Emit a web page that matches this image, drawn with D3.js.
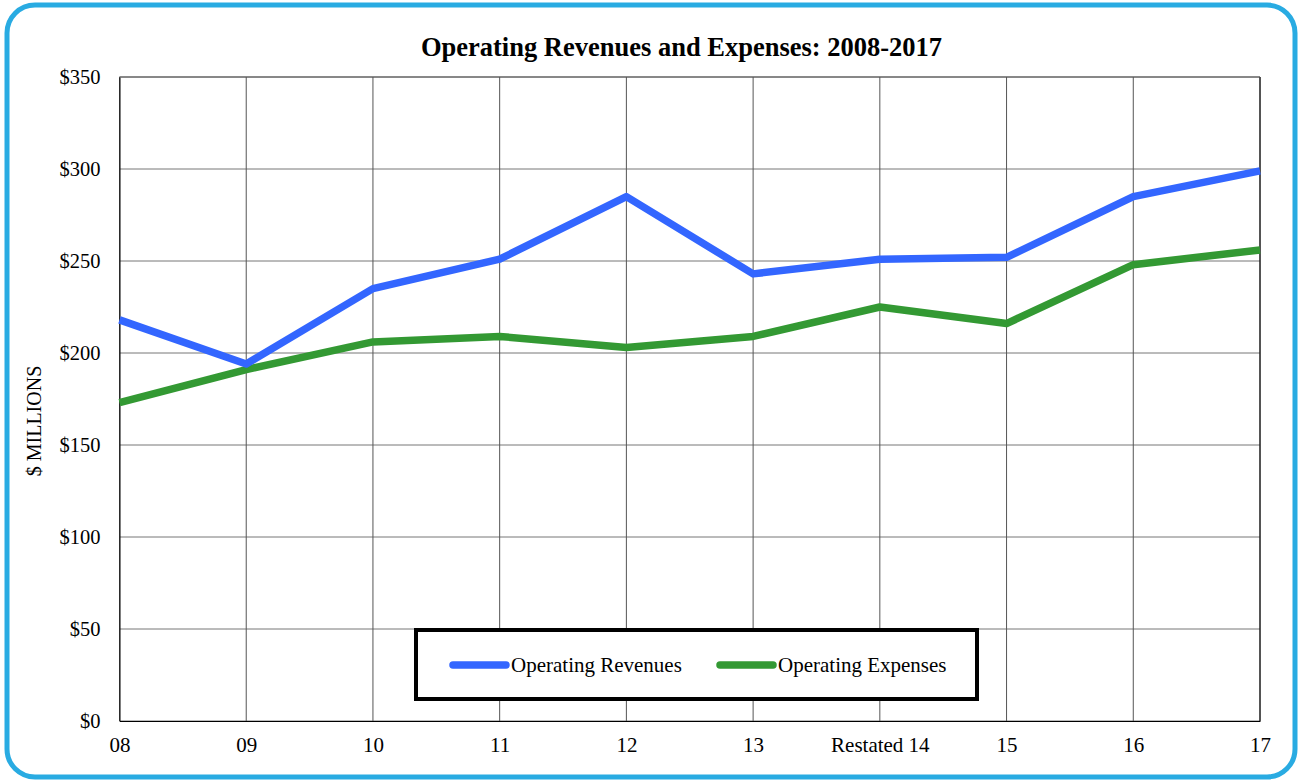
<!DOCTYPE html>
<html>
<head>
<meta charset="utf-8">
<script src="https://cdn.jsdelivr.net/npm/d3@7"></script>
<style>
body { margin: 0; background: #fff; }
text { font-family: "Liberation Serif", "Times New Roman", serif; fill: #000; }
</style>
</head>
<body>
<script>
var years = ["08", "09", "10", "11", "12", "13", "Restated 14", "15", "16", "17"];
var revenues = [218, 194, 235, 251, 285, 243, 251, 252, 285, 299];
var expenses = [173, 191, 206, 209, 203, 209, 225, 216, 248, 256];
var yTicks = [0, 50, 100, 150, 200, 250, 300, 350];

var W = 1302, H = 782;
var plotLeft = 119.5, plotRight = 1260, plotTop = 77, plotBottom = 721;

var svg = d3.select("body").append("svg")
  .attr("width", W).attr("height", H);

// outer rounded frame
svg.append("rect")
  .attr("x", 7).attr("y", 5)
  .attr("width", W - 14).attr("height", H - 10)
  .attr("rx", 28).attr("ry", 28)
  .attr("fill", "white")
  .attr("stroke", "#29ABE2")
  .attr("stroke-width", 5);

var x = d3.scalePoint().domain(years).range([plotLeft, plotRight]);
var y = d3.scaleLinear().domain([0, 350]).range([plotBottom, plotTop]);

// gridlines
svg.append("g").selectAll("line")
  .data(yTicks)
  .enter().append("line")
  .attr("x1", plotLeft).attr("x2", plotRight)
  .attr("y1", function(d) { return y(d); })
  .attr("y2", function(d) { return y(d); })
  .attr("stroke", "#777").attr("stroke-width", 1);

svg.append("g").selectAll("line")
  .data(years)
  .enter().append("line")
  .attr("x1", function(d) { return x(d); })
  .attr("x2", function(d) { return x(d); })
  .attr("y1", plotTop).attr("y2", plotBottom)
  .attr("stroke", "#555").attr("stroke-width", 1);

// axes
var yAxis = svg.append("g")
  .attr("transform", "translate(" + plotLeft + ",0)")
  .call(d3.axisLeft(y).tickValues(yTicks).tickSize(0).tickPadding(19)
    .tickFormat(function(d) { return "$" + d; }));
yAxis.select(".domain").attr("stroke", "#000");
yAxis.selectAll("text").style("font-size", "20.5px")
  .style("font-family", "'Liberation Serif', serif");

var xAxis = svg.append("g")
  .attr("transform", "translate(0," + plotBottom + ")")
  .call(d3.axisBottom(x).tickSize(0).tickPadding(16));
xAxis.select(".domain").attr("stroke", "#000");
xAxis.selectAll("text").style("font-size", "21px")
  .style("font-family", "'Liberation Serif', serif");

svg.append("line")
  .attr("x1", plotRight).attr("x2", plotRight).attr("y1", plotTop).attr("y2", plotBottom)
  .attr("stroke", "#000");
svg.append("line")
  .attr("x1", plotLeft).attr("x2", plotRight).attr("y1", plotTop).attr("y2", plotTop)
  .attr("stroke", "#555");

// title
svg.append("text")
  .attr("x", 681.5).attr("y", 56)
  .attr("text-anchor", "middle")
  .style("font-size", "26.5px").style("font-weight", "bold")
  .text("Operating Revenues and Expenses: 2008-2017");

// y label
svg.append("text")
  .attr("transform", "translate(41,421) rotate(-90)")
  .attr("text-anchor", "middle")
  .style("font-size", "20px")
  .text("$ MILLIONS");

var line = d3.line()
  .x(function(d, i) { return x(years[i]); })
  .y(function(d) { return y(d); });

var series = [
  { name: "Operating Revenues", values: revenues, color: "#3366FF" },
  { name: "Operating Expenses", values: expenses, color: "#339933" }
];

svg.selectAll(".series")
  .data(series.slice().reverse())
  .enter().append("path")
  .attr("class", "series")
  .attr("d", function(d) { return line(d.values); })
  .attr("fill", "none")
  .attr("stroke", function(d) { return d.color; })
  .attr("stroke-width", 7.5)
  .attr("stroke-linejoin", "round");

// legend
var legend = svg.append("g");
legend.append("rect")
  .attr("x", 416).attr("y", 630)
  .attr("width", 561).attr("height", 69)
  .attr("fill", "white").attr("stroke", "#000").attr("stroke-width", 4);

var items = legend.selectAll(".item")
  .data(series)
  .enter().append("g")
  .attr("transform", function(d, i) { return "translate(" + (i === 0 ? 453 : 720) + ",665)"; });
items.append("line")
  .attr("x1", 0).attr("x2", 53)
  .attr("stroke", function(d) { return d.color; })
  .attr("stroke-width", 7.5)
  .attr("stroke-linecap", "round");
items.append("text")
  .attr("x", 58).attr("dy", "0.35em")
  .style("font-size", "21px")
  .text(function(d) { return d.name; });
</script>
</body>
</html>
